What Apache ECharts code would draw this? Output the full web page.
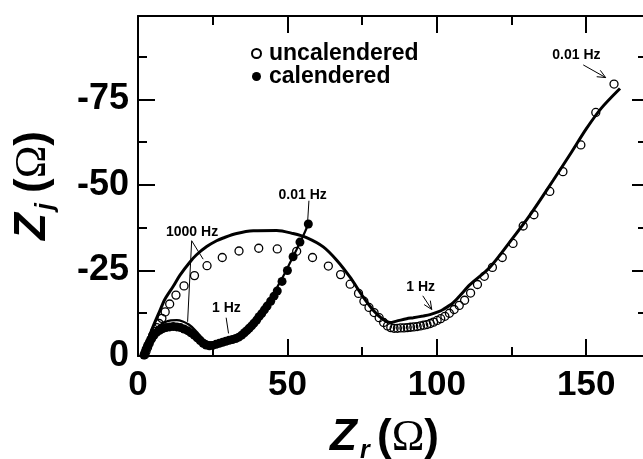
<!DOCTYPE html>
<html>
<head>
<meta charset="utf-8">
<script src="https://cdn.jsdelivr.net/npm/echarts@6.0.0/dist/echarts.min.js"></script>
<style>
  html, body { margin: 0; padding: 0; background: #fff; }
  #main { width: 643px; height: 459px; }
</style>
</head>
<body>
<div id="main"></div>
<script>
// measured points, [Zr, -Zj]
var uncalPts = [[2.3,0.4],[2.7,1.4],[3.2,2.5],[3.7,3.6],[4.3,4.8],[4.9,6.0],[5.6,7.2],[6.3,8.3],[7.1,9.5],[8.0,11.0],
  [9.1,12.9],[10.6,15.2],[12.7,17.8],[15.4,20.5],[18.9,23.5],[23.1,26.4],[28.2,28.8],[33.8,30.7],[40.4,31.5],[46.6,31.3],
  [53.1,30.6],[58.4,28.8],[63.7,26.3],[67.8,23.8],[71.0,21.0],[73.8,18.3],[75.6,16.0],[77.3,14.2],[79.0,12.7],[80.7,11.2],
  [82.2,9.8],[83.5,8.8],[84.6,8.3],[85.7,8.1],[86.8,8.1],[87.9,8.2],[89.0,8.2],[90.1,8.3],[91.2,8.4],[92.3,8.5],
  [93.4,8.6],[94.5,8.8],[95.6,9.0],[96.7,9.2],[97.8,9.5],[98.9,9.9],[100.1,10.4],[101.3,10.9],[102.7,11.6],[104.2,12.5],
  [105.8,13.6],[107.5,14.8],[109.3,16.3],[111.3,18.4],[113.6,20.9],[115.9,23.3],[118.6,25.9],[121.9,28.8],[125.5,32.9],[128.9,38.0],
  [132.5,41.3],[137.8,48.1],[142.2,53.9],[148.2,61.7],[153.2,71.2],[159.3,79.5]];

var calPts = [[2.0,0.3],[2.3,1.0],[2.7,2.0],[3.2,3.0],[3.8,4.0],[4.5,5.0],[5.3,6.0],[6.2,6.9],[7.2,7.5],[8.3,8.0],
  [9.4,8.3],[10.6,8.5],[11.8,8.6],[13.0,8.5],[14.2,8.3],[15.4,7.9],[16.6,7.4],[17.7,6.8],[18.8,6.1],[19.8,5.3],
  [20.8,4.5],[21.8,3.7],[22.8,3.2],[23.9,3.0],[25.0,3.1],[26.1,3.4],[27.2,3.7],[28.3,4.0],[29.4,4.3],[30.5,4.6],
  [31.6,4.8],[32.7,5.1],[33.7,5.5],[34.7,6.1],[35.6,6.8],[36.4,7.4],[37.2,8.1],[38.0,8.8],[38.8,9.6],[39.7,10.5],
  [40.5,11.5],[41.4,12.4],[42.3,13.5],[43.2,14.6],[44.4,16.0],[45.5,17.5],[46.6,19.0],[48.2,21.8],[50.0,25.0],[51.9,29.0],
  [54.2,33.3],[57.0,38.6]];

// fitted curves
var uncalFit = [[1.8,0],[2.5,2.5],[3.5,5.0],[5.0,8.5],[7.4,13.4],[9.0,16.6],[11.8,20.4],[14.0,23.6],[17.4,27.5],[19.6,29.6],
  [23.0,32.0],[26.3,33.7],[28.5,34.5],[33.0,35.8],[38.6,36.6],[46.4,36.7],[51.9,35.8],[56.4,34.6],[62.0,31.9],[66.5,28.0],
  [70.9,23.1],[75.4,17.2],[78.7,13.4],[82.0,10.7],[84.3,9.8],[86.5,10.2],[89.9,10.9],[92.1,11.2],[95.4,11.7],[97.7,12.1],
  [100.4,12.9],[102.1,13.6],[105.4,15.5],[108.0,17.9],[111.0,20.8],[117.7,25.9],[124.4,33.3],[131.1,41.1],[138.9,51.3],[145.0,59.5],
  [150.0,66.4],[155.0,72.4],[161.3,78.2]];

var calFit = [[1.8,0],[2.5,2.0],[3.5,4.0],[5.0,6.6],[7.0,8.8],[9.0,9.9],[11.0,10.4],[13.0,10.5],[15.0,10.1],[17.0,9.2],
  [19.0,7.7],[20.5,6.2],[22.0,4.8],[23.5,4.1],[25.0,4.0],[27.0,4.3],[29.0,4.7],[31.0,5.1],[33.0,5.5],[35.0,6.4],
  [37.0,8.0],[39.0,10.0],[41.0,12.3],[43.0,14.8],[45.0,17.6],[47.0,20.8],[49.0,24.0],[51.0,27.5],[53.0,31.0],[55.0,34.6],
  [57.0,38.5]];

var xTicks = [0, 50, 100, 150];
var yTicks = [0, 25, 50, 75];

// frequency notes: label text + centre, and leader lines [x1,y1,x2,y2,arrow]
var noteText = ['1000 Hz', '1 Hz', '0.01 Hz', '1 Hz', '0.01 Hz'];
var notePos = [[18.1,36.2],[29.6,14.0],[55.1,47.1],[94.6,20.0],[146.7,87.9]];
var noteLines = [[17.96,33.7,21.8,28.3,0],[17.96,33.7,16.6,10.0,0],[29.5,11.2,30.3,6.6,0],
  [57.2,45.4,56.8,39.7,0],[95.3,17.6,98.3,13.6,1],[149.0,85.1,156.5,81.4,1]];

var FONT = 'Liberation Sans, Arial, sans-serif';
var X_MAX = 170, Y_MAX = 99.4;
var GRID = {left: 138, top: 16, right: -3, bottom: 103, containLabel: false, outerBoundsMode: 'none'};

var myChart = echarts.init(document.getElementById('main'));

// grid 0 carries major ticks + labels, grid 1 (same box) only the minor ticks
function axisX(grid, pos, interval, len) {
    var main = grid === 0;
    return {
        type: 'value', gridIndex: grid, position: pos, min: 0, max: X_MAX, interval: interval,
        axisLine: {show: main, onZero: false, lineStyle: {color: '#000', width: 2}},
        axisTick: {show: true, inside: true, length: len, lineStyle: {color: '#000', width: 2}},
        axisLabel: {
            show: main && pos === 'bottom', margin: 12, showMaxLabel: false,
            color: '#000', fontFamily: FONT, fontWeight: 'bold', fontSize: 35,
            formatter: function (v) { return xTicks.indexOf(v) >= 0 ? String(v) : ''; }
        },
        splitLine: {show: false}
    };
}

function axisY(grid, pos, interval, len) {
    var main = grid === 0;
    return {
        type: 'value', gridIndex: grid, position: pos, min: 0, max: Y_MAX, interval: interval,
        axisLine: {show: main, onZero: false, lineStyle: {color: '#000', width: 2}},
        axisTick: {show: true, inside: true, length: len, lineStyle: {color: '#000', width: 2}},
        axisLabel: {
            show: main && pos === 'left', margin: 9, showMaxLabel: false,
            color: '#000', fontFamily: FONT, fontWeight: 'bold', fontSize: 36,
            formatter: function (v) {
                if (yTicks.indexOf(v) < 0) return '';
                return v === 0 ? '0' : '-' + v;
            }
        },
        splitLine: {show: false}
    };
}

// axis title: Z with subscript and (Ω)
function axisTitle(sub, x, y, rot) {
    return {
        type: 'group', x: x, y: y, rotation: rot, silent: true,
        children: [
            {type: 'text', x: 0, y: -14, style: {text: 'Z', font: 'italic bold 44px ' + FONT, fill: '#000', align: 'left', verticalAlign: 'middle'}},
            {type: 'text', x: 30, y: -1, style: {text: sub, font: 'italic bold 25px ' + FONT, fill: '#000', align: 'left', verticalAlign: 'middle'}},
            {type: 'text', x: 47, y: -14, style: {
                text: '{p|(}{o|Ω}{p|)}', fill: '#000', align: 'left', verticalAlign: 'middle',
                rich: {
                    p: {fontFamily: FONT, fontWeight: 'bold', fontSize: 44, verticalAlign: 'middle'},
                    o: {fontFamily: 'Liberation Serif, Times New Roman, serif', fontSize: 44, verticalAlign: 'middle'}
                }
            }}
        ]
    };
}

function renderLeader(params, api) {
    var a = api.coord([api.value(0), api.value(1)]);
    var b = api.coord([api.value(2), api.value(3)]);
    var children = [{type: 'line', shape: {x1: a[0], y1: a[1], x2: b[0], y2: b[1]}, style: {stroke: '#000', lineWidth: 1}}];
    if (api.value(4)) {
        var ang = Math.atan2(b[1] - a[1], b[0] - a[0]);
        var L = 9, w = 0.42;
        var p1 = [b[0] - L * Math.cos(ang - w), b[1] - L * Math.sin(ang - w)];
        var p2 = [b[0] - L * Math.cos(ang + w), b[1] - L * Math.sin(ang + w)];
        children.push({type: 'polyline', shape: {points: [p1, b, p2]}, style: {stroke: '#000', lineWidth: 1, fill: null}});
    }
    return {type: 'group', children: children};
}

function renderNote(params, api) {
    var p = api.coord([api.value(0), api.value(1)]);
    return {
        type: 'text', x: p[0], y: p[1],
        style: {text: noteText[params.dataIndex], font: 'bold 14px ' + FONT, fill: '#000', align: 'center', verticalAlign: 'middle'}
    };
}

var option = {
    animation: false,
    backgroundColor: '#fff',
    grid: [GRID, echarts.util.clone(GRID)],
    legend: {
        data: ['uncalendered', 'calendered'],
        orient: 'vertical', left: 246, top: 37,
        itemWidth: 9, itemHeight: 9, itemGap: 0,
        selectedMode: false,
        textStyle: {color: '#000', fontFamily: FONT, fontWeight: 'bold', fontSize: 23, padding: [0, 0, 0, 3]}
    },
    xAxis: [axisX(0, 'bottom', 50, 17), axisX(0, 'top', 50, 17), axisX(1, 'bottom', 25, 9), axisX(1, 'top', 25, 9)],
    yAxis: [axisY(0, 'left', 25, 17), axisY(0, 'right', 25, 14), axisY(1, 'left', 12.5, 9), axisY(1, 'right', 12.5, 8)],
    graphic: [
        axisTitle('r', 330, 452, 0),
        axisTitle('j', 47, 240, Math.PI / 2)
    ],
    series: [
        {
            name: 'uncalendered fit', type: 'line', data: uncalFit, showSymbol: false, symbol: 'none',
            smooth: 0.3, lineStyle: {color: '#000', width: 3}, z: 2
        },
        {
            name: 'calendered fit', type: 'line', data: calFit, showSymbol: false, symbol: 'none',
            smooth: 0.3, lineStyle: {color: '#000', width: 2.2}, z: 2
        },
        {
            name: 'uncalendered', type: 'scatter', data: uncalPts, symbol: 'circle', symbolSize: 8,
            itemStyle: {color: 'rgba(255,255,255,0)', borderColor: '#000', borderWidth: 1.3, opacity: 1}, z: 3
        },
        {
            name: 'calendered', type: 'scatter', data: calPts, symbol: 'circle', symbolSize: 9,
            itemStyle: {color: '#000', opacity: 1}, z: 3
        },
        {
            name: 'leaders', type: 'custom', data: noteLines, renderItem: renderLeader,
            encode: {x: [0, 2], y: [1, 3]}, clip: false, silent: true, z: 4
        },
        {
            name: 'notes', type: 'custom', data: notePos, renderItem: renderNote,
            encode: {x: 0, y: 1}, clip: false, silent: true, z: 4
        }
    ]
};

myChart.setOption(option);
</script>
</body>
</html>
